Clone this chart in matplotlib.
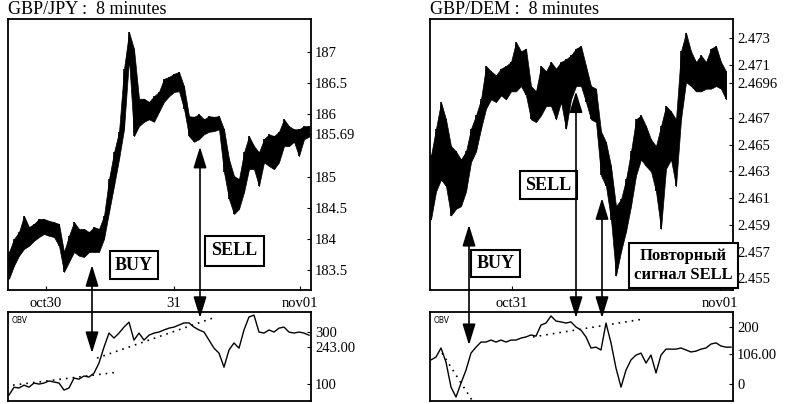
import numpy as np
import matplotlib.pyplot as plt
from matplotlib.patches import ConnectionPatch

plt.rcParams['font.family'] = ['Liberation Serif', 'DejaVu Serif']

# GBP/JPY 8-minute bars (high / low)
jpy_hi = [183.79, 184.00, 184.11, 184.37, 184.19, 184.24, 184.32, 184.32, 184.29, 184.27,
          184.24, 183.79, 184.05, 184.27, 184.16, 184.16, 184.11, 184.19, 184.16, 184.37,
          184.96, 185.39, 185.72, 186.73, 187.32, 187.05, 186.25, 186.25, 186.20, 186.29,
          186.36, 186.57, 186.60, 186.65, 186.68, 186.45, 185.97, 185.96, 186.00, 185.92,
          185.97, 185.96, 185.97, 185.76, 185.28, 185.01, 184.96, 185.39, 185.65, 185.49,
          185.39, 185.60, 185.68, 185.65, 185.72, 185.92, 185.81, 185.76, 185.76, 185.81,
          185.81]
jpy_lo = [183.36, 183.57, 183.73, 183.84, 183.89, 183.97, 184.03, 184.08, 184.05, 184.03,
          183.89, 183.47, 183.63, 183.79, 183.73, 183.71, 183.79, 183.79, 183.79, 184.00,
          184.43, 184.85, 185.28, 185.76, 186.89, 185.65, 185.81, 185.88, 185.92, 185.88,
          186.04, 186.20, 186.29, 186.36, 186.37, 186.09, 185.65, 185.56, 185.60, 185.68,
          185.72, 185.73, 185.76, 185.07, 184.64, 184.40, 184.48, 184.75, 185.12, 185.12,
          184.85, 185.23, 185.17, 185.12, 185.23, 185.49, 185.49, 185.56, 185.33, 185.60,
          185.64]
jpy_obv = [58, 88, 85, 96, 88, 104, 100, 104, 112, 108, 104, 77, 85, 123, 119, 131, 127,
           142, 181, 242, 296, 277, 296, 319, 338, 269, 296, 269, 288, 296, 300, 308, 315,
           319, 327, 335, 335, 319, 308, 300, 269, 238, 219, 165, 231, 258, 238, 308, 358,
           365, 300, 296, 308, 300, 315, 319, 300, 296, 300, 296, 288]

# GBP/DEM 8-minute bars (high / low)
dem_hi = [2.4642, 2.4662, 2.4682, 2.4669, 2.4649, 2.4645, 2.4639, 2.4645, 2.4662, 2.4672,
          2.4684, 2.4709, 2.4705, 2.4702, 2.4707, 2.4709, 2.4712, 2.4727, 2.4720, 2.4722,
          2.4694, 2.4690, 2.4709, 2.4705, 2.4712, 2.4707, 2.4712, 2.4714, 2.4717, 2.4722,
          2.4724, 2.4709, 2.4694, 2.4692, 2.4660, 2.4652, 2.4634, 2.4604, 2.4609, 2.4624,
          2.4645, 2.4669, 2.4672, 2.4664, 2.4654, 2.4649, 2.4664, 2.4679, 2.4675, 2.4669,
          2.4720, 2.4734, 2.4720, 2.4712, 2.4717, 2.4712, 2.4722, 2.4724, 2.4712, 2.4705]
dem_lo = [2.4594, 2.4615, 2.4624, 2.4619, 2.4597, 2.4602, 2.4604, 2.4615, 2.4637, 2.4645,
          2.4662, 2.4677, 2.4684, 2.4682, 2.4687, 2.4684, 2.4690, 2.4690, 2.4694, 2.4687,
          2.4669, 2.4667, 2.4672, 2.4679, 2.4679, 2.4669, 2.4682, 2.4662, 2.4684, 2.4694,
          2.4694, 2.4682, 2.4669, 2.4667, 2.4627, 2.4619, 2.4594, 2.4552, 2.4570, 2.4585,
          2.4604, 2.4627, 2.4639, 2.4634, 2.4630, 2.4615, 2.4587, 2.4632, 2.4639, 2.4619,
          2.4669, 2.4697, 2.4694, 2.4690, 2.4690, 2.4692, 2.4692, 2.4694, 2.4692, 2.4684]
dem_obv = [84, 94, 126, 76, -12, -47, 2, 48, 108, 129, 147, 147, 154, 147, 154, 147, 154,
           154, 161, 165, 172, 168, 207, 214, 239, 221, 218, 214, 218, 200, 189, 165, 126,
           129, 119, 214, 144, 55, -12, 48, 84, 101, 108, 73, 101, 38, 101, 122, 122, 122,
           126, 119, 112, 115, 122, 126, 140, 144, 133, 129, 129]

# axis labels
jpy_yticks = [183.5, 184, 184.5, 185, 185.69, 186, 186.5, 187]
jpy_ylabels = ['183.5', '184', '184.5', '185', '185.69', '186', '186.5', '187']
dem_yticks = [2.455, 2.457, 2.459, 2.461, 2.463, 2.465, 2.467, 2.4696, 2.471, 2.473]
dem_ylabels = ['2.455', '2.457', '2.459', '2.461', '2.463', '2.465', '2.467', '2.4696', '2.471', '2.473']
jpy_obv_ticks = [100, 243, 300]
jpy_obv_labels = ['100', '243.00', '300']
dem_obv_ticks = [0, 106, 200]
dem_obv_labels = ['0', '106.00', '200']
jpy_dates = [7.4, 33, 58.2]
jpy_date_labels = ['oct30', '31', 'nov01']
dem_dates = [16.2, 57.8]
dem_date_labels = ['oct31', 'nov01']

# trend lines on OBV (bar index, value)
jpy_trend1 = ([0.8, 21.8], [96, 146])
jpy_trend2 = ([17.6, 40.8], [200, 354])
dem_trend1 = ([2.2, 8.2], [108, -58])
dem_trend2 = ([20.4, 42.4], [165, 228])

# signals: bar index, price at arrow tip, OBV at arrow tip
jpy_signals = [(16.6, 183.58, 219), (38.2, 185.48, 354)]
dem_signals = [(7.6, 2.4590, 136), (29, 2.4690, 232), (34.2, 2.4610, 232)]

W, H = 787, 404
fig = plt.figure(figsize=(W / 100, H / 100), dpi=100)


def px_box(x0, y0, x1, y1):
    return [x0 / W, 1 - y1 / H, (x1 - x0) / W, (y1 - y0) / H]


ax_jpy = fig.add_axes(px_box(8, 19, 311, 290))
ax_jpy_obv = fig.add_axes(px_box(8, 312, 311, 401))
ax_dem = fig.add_axes(px_box(430, 19, 733, 290))
ax_dem_obv = fig.add_axes(px_box(430, 312, 733, 401))


def style(ax):
    ax.yaxis.tick_right()
    ax.tick_params(direction='in', length=3, width=0.8, labelsize=10.5, pad=3)
    for s in ax.spines.values():
        s.set_linewidth(1.3)
    ax.set_xlim(-0.2, 60.4)


def draw_price(ax, hi, lo):
    x = np.arange(len(hi))
    ax.fill_between(x, lo, hi, color='k', lw=0.5)
    ax.vlines(x, lo, hi, color='k', lw=1.2)


for ax in [ax_jpy, ax_jpy_obv, ax_dem, ax_dem_obv]:
    style(ax)

draw_price(ax_jpy, jpy_hi, jpy_lo)
ax_jpy.set_ylim(183.18, 187.53)
ax_jpy.set_yticks(jpy_yticks, jpy_ylabels)
ax_jpy.set_xticks(jpy_dates, jpy_date_labels)
ax_jpy.tick_params(axis='x', pad=5)

draw_price(ax_dem, dem_hi, dem_lo)
ax_dem.set_ylim(2.45412, 2.47442)
ax_dem.set_yticks(dem_yticks, dem_ylabels)
ax_dem.set_xticks(dem_dates, dem_date_labels)
ax_dem.tick_params(axis='x', pad=5)

ax_jpy_obv.plot(np.arange(len(jpy_obv)), jpy_obv, color='k', lw=1.0)
ax_jpy_obv.plot(*jpy_trend1, color='k', lw=1.2, ls=(0, (1, 3)))
ax_jpy_obv.plot(*jpy_trend2, color='k', lw=1.2, ls=(0, (1, 3)))
ax_jpy_obv.set_ylim(35, 377)
ax_jpy_obv.set_yticks(jpy_obv_ticks, jpy_obv_labels)
ax_jpy_obv.set_xticks([])

ax_dem_obv.plot(np.arange(len(dem_obv)), dem_obv, color='k', lw=1.0)
ax_dem_obv.plot(*dem_trend1, color='k', lw=1.2, ls=(0, (1, 3)))
ax_dem_obv.plot(*dem_trend2, color='k', lw=1.2, ls=(0, (1, 3)))
ax_dem_obv.set_ylim(-61, 253)
ax_dem_obv.set_yticks(dem_obv_ticks, dem_obv_labels)
ax_dem_obv.set_xticks([])

for ax in [ax_jpy_obv, ax_dem_obv]:
    ax.text(0.012, 0.95, 'OBV', transform=ax.transAxes, fontsize=5.5,
            family='DejaVu Sans', va='top', ha='left')

fig.text(8 / W, 1 - 10 / H, 'GBP/JPY :  8 minutes', fontsize=13, va='center', ha='left')
fig.text(430 / W, 1 - 10 / H, 'GBP/DEM :  8 minutes', fontsize=13, va='center', ha='left')


def signal_arrows(ax_p, ax_o, signals):
    for xi, p, o in signals:
        con = ConnectionPatch(xyA=(xi, p), coordsA=ax_p.transData,
                              xyB=(xi, o), coordsB=ax_o.transData,
                              arrowstyle='<|-|>,head_length=0.65,head_width=0.2',
                              mutation_scale=20, color='k', lw=1.2,
                              shrinkA=0, shrinkB=0)
        fig.add_artist(con)


signal_arrows(ax_jpy, ax_jpy_obv, jpy_signals)
signal_arrows(ax_dem, ax_dem_obv, dem_signals)

box_kw = dict(boxstyle='square,pad=0.3', fc='white', ec='k', lw=1.5)
ax_jpy.text(0.416, 0.092, 'BUY', transform=ax_jpy.transAxes, fontsize=13,
            fontweight='bold', ha='center', va='center', bbox=box_kw, clip_on=False)
ax_jpy.text(0.747, 0.144, 'SELL', transform=ax_jpy.transAxes, fontsize=13,
            fontweight='bold', ha='center', va='center',
            bbox=dict(boxstyle='square,pad=0.35', fc='white', ec='k', lw=1.5), clip_on=False)
ax_dem.text(0.216, 0.098, 'BUY', transform=ax_dem.transAxes, fontsize=13,
            fontweight='bold', ha='center', va='center', bbox=box_kw, clip_on=False)
ax_dem.text(0.391, 0.387, 'SELL', transform=ax_dem.transAxes, fontsize=13,
            fontweight='bold', ha='center', va='center', bbox=box_kw, clip_on=False)
ax_dem.text(0.837, 0.090, 'Повторный\nсигнал SELL', transform=ax_dem.transAxes,
            fontsize=12, fontweight='bold', ha='center', va='center',
            linespacing=1.3, bbox=dict(boxstyle='square,pad=0.3', fc='white', ec='k', lw=1.5),
            clip_on=False, zorder=5)

fig.savefig('out.png', dpi=100)
